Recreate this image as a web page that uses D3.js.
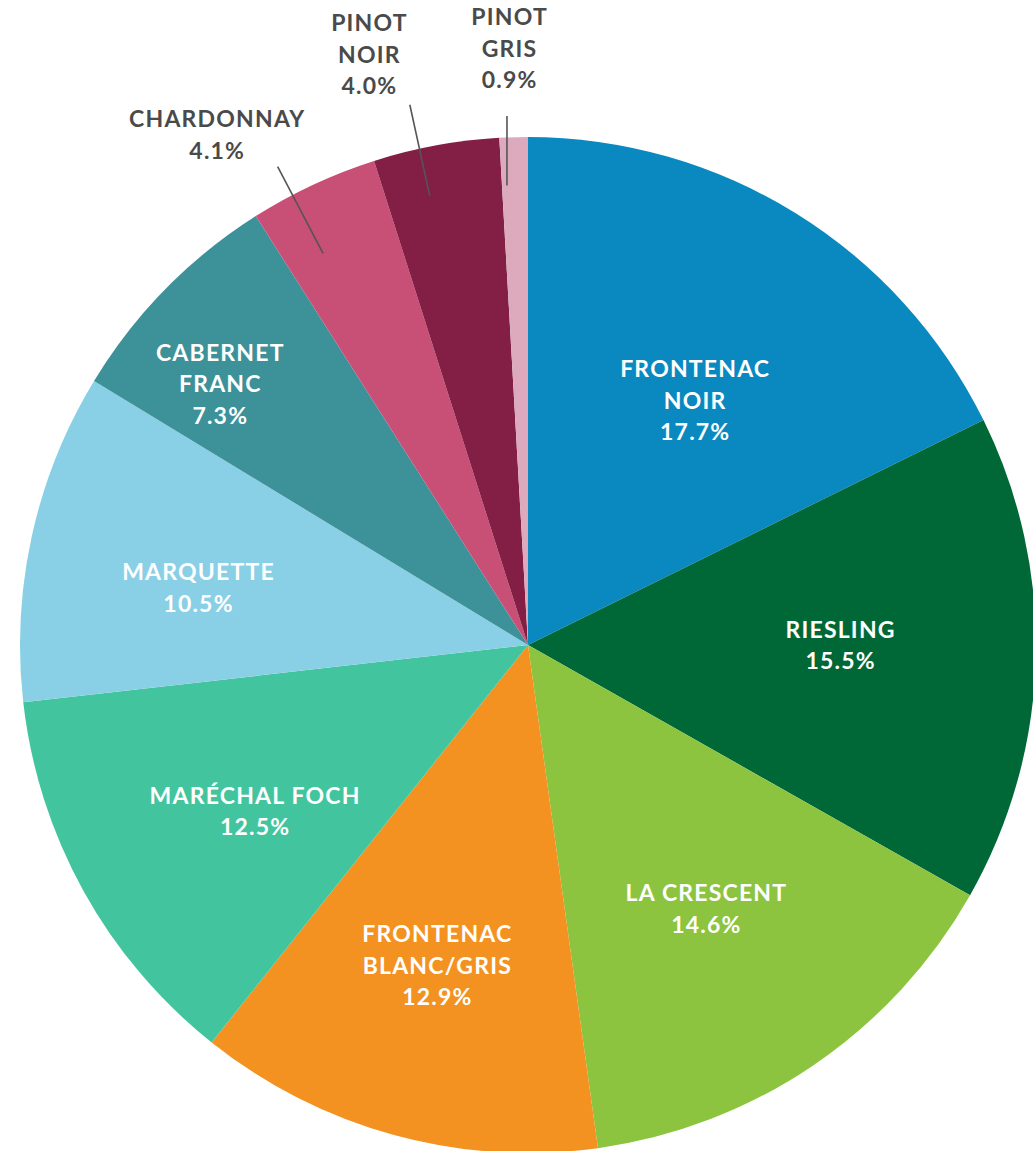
<!DOCTYPE html>
<html><head><meta charset="utf-8">
<script src="https://cdn.jsdelivr.net/npm/d3@7"></script>
<style>html,body{margin:0;padding:0;background:#fff;}svg{display:block;}</style>
</head><body>
<svg id="chart" width="1033" height="1151"></svg>
<script>
const categories = ["FRONTENAC NOIR","RIESLING","LA CRESCENT","FRONTENAC BLANC/GRIS","MARÉCHAL FOCH","MARQUETTE","CABERNET FRANC","CHARDONNAY","PINOT NOIR","PINOT GRIS"];
const labelLines = [["FRONTENAC","NOIR"],["RIESLING"],["LA CRESCENT"],["FRONTENAC","BLANC/GRIS"],["MARÉCHAL FOCH"],["MARQUETTE"],["CABERNET","FRANC"],["CHARDONNAY"],["PINOT","NOIR"],["PINOT","GRIS"]];
const values = [17.7,15.5,14.6,12.9,12.5,10.5,7.3,4.1,4.0,0.9];
const colors = ["#0a89c0","#006837","#8cc43f","#f39221","#42c59e","#89d0e6","#3d9198","#c84f76","#831f45","#dca9bd"];

// layout (not data): label radius and angle nudge (degrees) per slice; outside = leader lines
const layout = [
  {r:296,da:2.4},{r:312,da:-1.6},{r:318,da:0.2},{r:333,da:0.6},{r:320,da:-2.3},
  {r:335,da:-2.6},{r:404,da:-4.2},
  {out:true, r1:442, r2:540, da:-2.6, tx:-61, ty:-16},
  {out:true, r1:460, r2:553, da:-1.9, tx:-41, ty:-19},
  {out:true, r1:460, r2:529, da:-1.0, vertical:true, tx:2, ty:-36}
];

const cx = 528, cy = 645, R = 508;
const svg = d3.select("#chart");
const g = svg.append("g").attr("transform",`translate(${cx},${cy})`);

const pie = d3.pie().sort(null).value(d=>d)(values);
const arc = d3.arc().innerRadius(0).outerRadius(R);

g.selectAll("path.slice").data(pie).join("path")
  .attr("class","slice")
  .attr("d",arc)
  .attr("fill",(d,i)=>colors[i]);

const font = "Lato, 'Noto Sans', sans-serif";
const lh = 31.5;
const fs = 23, ls = 1.2;

pie.forEach((d,i)=>{
  const L = layout[i];
  const mid = (d.startAngle+d.endAngle)/2 + (L.da||0)*Math.PI/180;
  const pt = (r)=>[r*Math.sin(mid), -r*Math.cos(mid)];
  const lines = labelLines[i].concat([values[i].toFixed(1)+"%"]);
  if(!L.out){
    const [x,y] = pt(L.r);
    const t = g.append("text").attr("text-anchor","middle")
      .attr("font-family",font).attr("font-weight",700).attr("font-size",fs)
      .attr("letter-spacing",ls).attr("fill","#fff");
    const y0 = y - (lines.length-1)*lh/2;
    lines.forEach((s,k)=>t.append("tspan").attr("x",x+ls/2).attr("y",y0+k*lh).attr("dy","0.36em").text(s));
  } else {
    const p1 = pt(L.r1);
    let p2 = pt(L.r2);
    if(L.vertical) p2 = [p1[0], -L.r2];
    g.append("line").attr("x1",p1[0]).attr("y1",p1[1]).attr("x2",p2[0]).attr("y2",p2[1])
      .attr("stroke","#555").attr("stroke-width",1.6);
    const x = p2[0]+L.tx, yb = p2[1]+L.ty;
    const t = g.append("text").attr("text-anchor","middle")
      .attr("font-family",font).attr("font-weight",700).attr("font-size",fs)
      .attr("letter-spacing",ls).attr("fill","#4a4a4a");
    const y0 = yb - (lines.length-1)*lh;
    lines.forEach((s,k)=>t.append("tspan").attr("x",x+ls/2).attr("y",y0+k*lh).attr("dy","0.36em").text(s));
  }
});
</script>
</body></html>
